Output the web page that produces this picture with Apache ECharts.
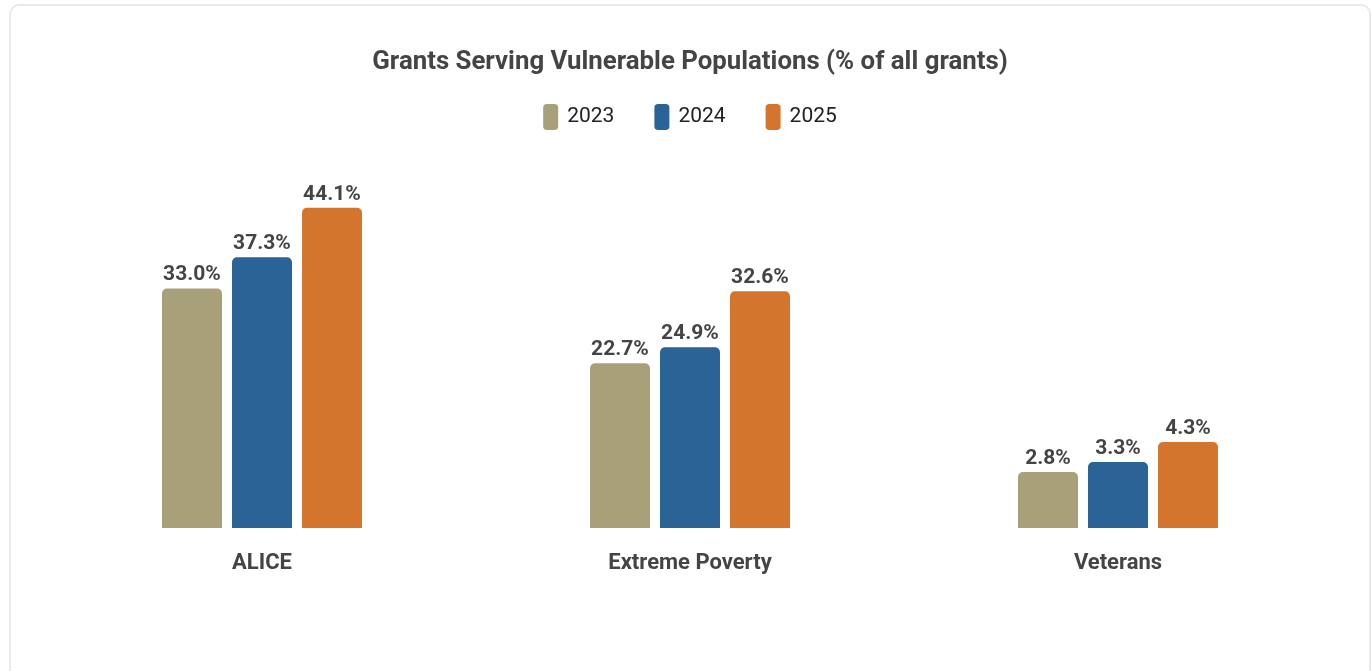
<!DOCTYPE html>
<html>
<head>
<meta charset="utf-8">
<title>Grants Serving Vulnerable Populations</title>
<script src="https://cdn.jsdelivr.net/npm/echarts@6/dist/echarts.min.js"></script>
<style>
  html, body { margin: 0; padding: 0; width: 1371px; height: 671px; overflow: hidden; background: #ffffff; }
  #card {
    position: absolute; left: 9px; top: 4px; width: 1358px; height: 720px;
    border: 2px solid #e9e9e9; border-radius: 10px; background: #ffffff;
  }
  #chart { position: absolute; left: 0; top: 0; width: 1380px; height: 671px; }
</style>
</head>
<body>
<div id="card"></div>
<div id="chart"></div>
<script>
// Share of all grants that serve each population, by year (%)
const categories = ['ALICE', 'Extreme Poverty', 'Veterans'];
const years = ['2023', '2024', '2025'];
const values2023 = [33.0, 22.7, 2.8];
const values2024 = [37.3, 24.9, 3.3];
const values2025 = [44.1, 32.6, 4.3];
// Veterans shares are small, so that group is drawn on its own (hidden) value scale
const scaleOfCategory = [0, 0, 1];

const yearValues = [values2023, values2024, values2025];
const colors = ['#a8a078', '#2a6395', '#d4752e'];

function pick(values, scaleIndex) {
  return values.map((v, i) => (scaleOfCategory[i] === scaleIndex ? v : '-'));
}

const series = [];
years.forEach((year, k) => {
  [0, 1].forEach(scaleIndex => {
    series.push({
      name: year,
      type: 'bar',
      stack: 'year' + year,
      yAxisIndex: scaleIndex,
      data: pick(yearValues[k], scaleIndex),
      barWidth: 60,
      barGap: '16.67%',
      itemStyle: { color: colors[k], borderRadius: [5, 5, 0, 0] },
      label: {
        show: true,
        position: 'top',
        distance: 3,
        fontFamily: 'Roboto',
        fontSize: 21,
        fontWeight: 'bold',
        color: '#444444',
        formatter: p => p.value.toFixed(1) + '%'
      },
      emphasis: { disabled: true }
    });
  });
});

const chart = echarts.init(document.getElementById('chart'), null, { renderer: 'canvas' });
chart.setOption({
  animation: false,
  textStyle: { fontFamily: 'Roboto' },
  title: {
    text: 'Grants Serving Vulnerable Populations (% of all grants)',
    left: 'center',
    top: 45,
    textStyle: { fontFamily: 'Roboto', fontSize: 25.8, fontWeight: 'bold', color: '#444444' }
  },
  legend: {
    data: years,
    top: 99,
    left: 'center',
    icon: 'roundRect',
    itemWidth: 15,
    itemHeight: 26,
    itemGap: 40,
    textStyle: { fontFamily: 'Roboto', fontSize: 21, color: '#222222', padding: [0, 0, 0, 4] }
  },
  grid: { left: 48, right: 48, top: 165, bottom: 143, containLabel: false },
  xAxis: {
    type: 'category',
    data: categories,
    axisLine: { show: false },
    axisTick: { show: false },
    axisLabel: {
      margin: 24,
      fontFamily: 'Roboto',
      fontSize: 22,
      fontWeight: 'bold',
      color: '#444444'
    }
  },
  yAxis: [
    { type: 'value', min: 0, max: 50, show: false, splitLine: { show: false } },
    { type: 'value', min: 0, max: 18.15, show: false, splitLine: { show: false } }
  ],
  series: series
});
</script>
</body>
</html>
